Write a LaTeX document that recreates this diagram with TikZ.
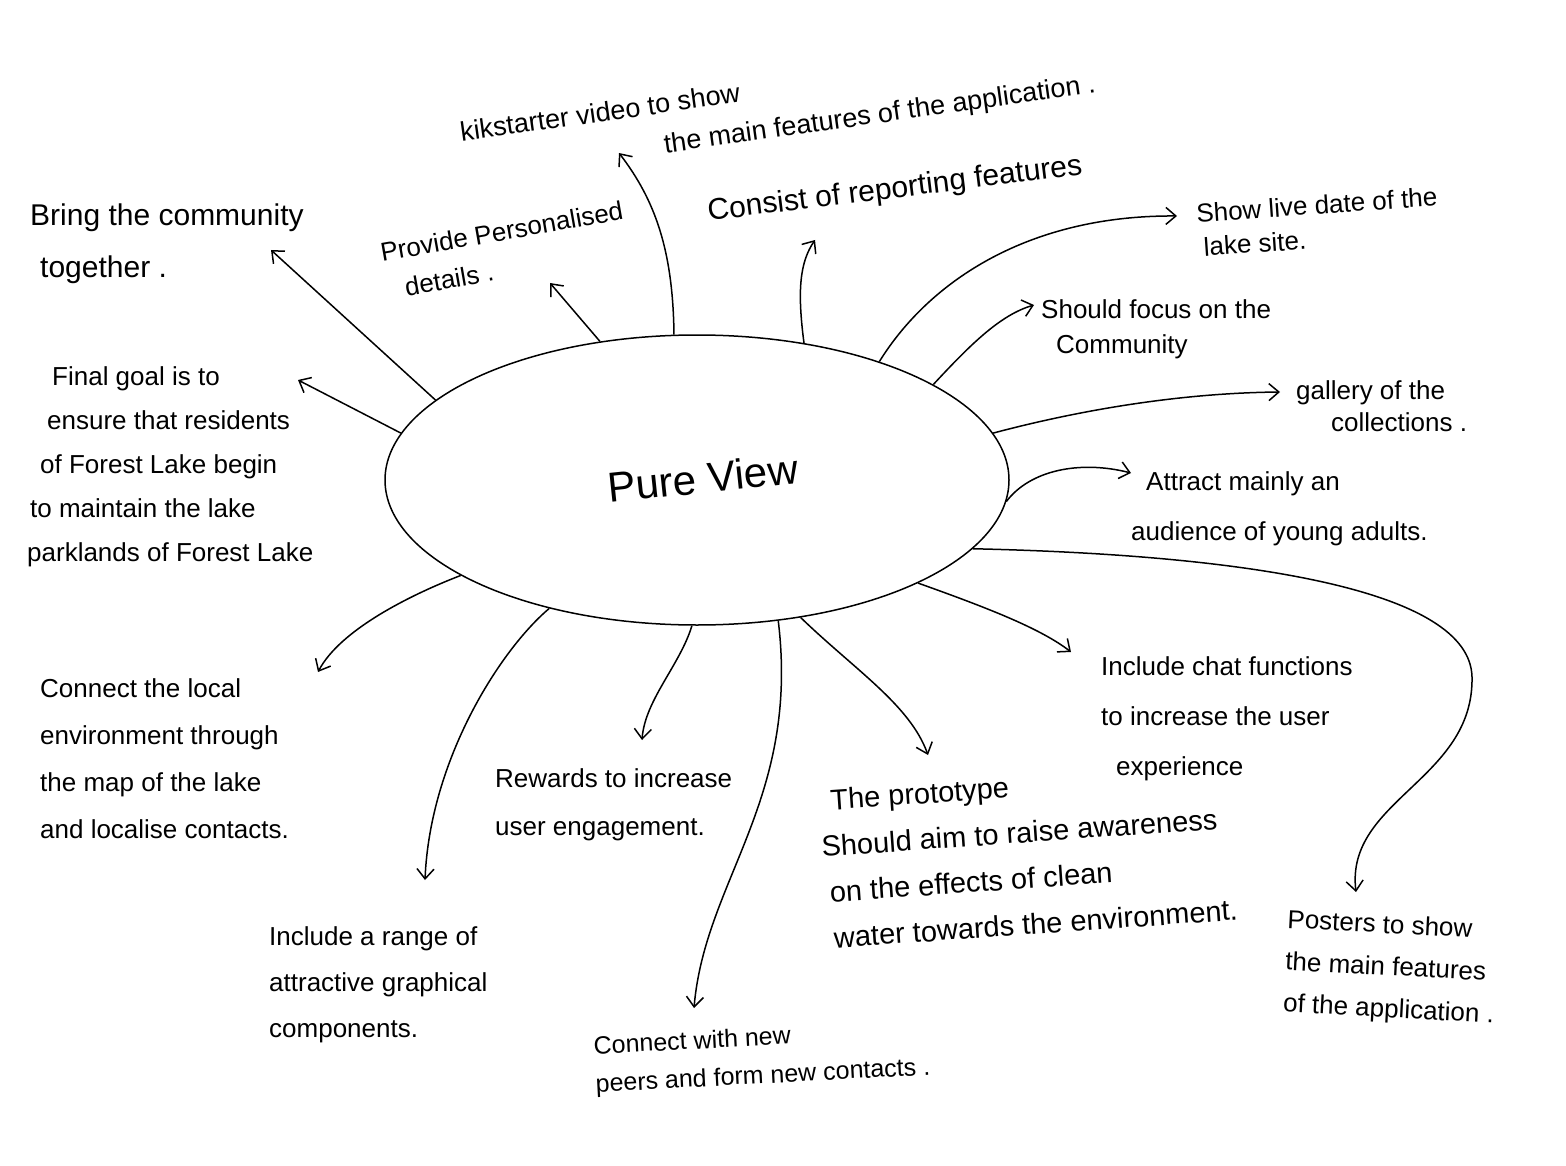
\documentclass[tikz,border=0pt]{standalone}
\usepackage{fontspec}
\setmainfont{Liberation Sans}
\usetikzlibrary{arrows.meta,shapes.geometric}

\begin{document}
\begin{tikzpicture}[x=1pt,y=-1pt,
  note/.style={font=\fontsize{26}{#1}\selectfont,align=left,inner sep=0pt,anchor=north west},
  note/.default=46,
  link/.style={line width=1.5pt,-{Straight Barb[length=10pt,width=17pt]}}]
\useasboundingbox (0,0) rectangle (1566,1166);
\fill[white] (0,0) rectangle (1566,1166);
\node[draw,line width=1.5pt,ellipse,minimum width=624,minimum height=290,inner sep=0pt] (pv) at (697,480) {};
\node[font=\fontsize{42}{42}\selectfont,rotate=6] (title) at (703,478) {Pure View};
\node[note,font=\fontsize{30}{52}\selectfont] (bring) at (30,204) {Bring the community\\\hspace*{10pt}together .};
\node[note=44] (final) at (27,366) {\hspace*{25pt}Final goal is to\\\hspace*{20pt}ensure that residents\\\hspace*{13pt}of Forest Lake begin\\\hspace*{3pt}to maintain the lake\\parklands of Forest Lake};
\node[note=38,rotate=10,anchor=center] (provide) at (505,250) {Provide Personalised\\\hspace*{18pt}details .};
\node[note,font=\fontsize{27}{40}\selectfont,rotate=8,anchor=center] (kick) at (778,110) {kikstarter video to show\\\hspace*{200pt}the main features of the application .};
\node[note,font=\fontsize{30}{30}\selectfont,rotate=7,anchor=center] (consist) at (895,190) {Consist of reporting features};
\node[note=34,rotate=4,anchor=center] (show) at (1318,222) {Show live date of the\\\hspace*{5pt}lake site.};
\node[note=35] (focus) at (1041,299) {Should focus on the\\\hspace*{15pt}Community};
\node[note=32] (gallery) at (1296,380) {gallery of the\\\hspace*{35pt}collections .};
\node[note=50] (attract) at (1131,471) {\hspace*{15pt}Attract mainly an\\audience of young adults.};
\node[note=50] (chat) at (1101,656) {Include chat functions\\to increase the user\\\hspace*{15pt}experience};
\node[note=42,rotate=-3] (posters) at (1288,909) {Posters to show\\the main features\\of the application .};
\node[note,font=\fontsize{29}{46}\selectfont,rotate=4,anchor=center] (proto) at (1028,855) {\hspace*{12pt}The prototype\\Should aim to raise awareness\\\hspace*{5pt}on the effects of clean\\\hspace*{6pt}water towards the environment.};
\node[note,font=\fontsize{25}{38}\selectfont,rotate=3,anchor=center] (peers) at (762,1058) {Connect with new\\peers and form new contacts .};
\node[note=48] (rewards) at (495,768) {Rewards to increase\\user engagement.};
\node[note=46] (range) at (269,926) {Include a range of\\attractive graphical\\components.};
\node[note=47] (local) at (40,678) {Connect the local\\environment through\\the map of the lake\\and localise contacts.};
\foreach \n/\x/\y in {kickend/619/153,bringend/271/250,finalend/298/380,provideend/550/283,
  consistend/815/240,showend/1177/216,focusend/1034/305,galleryend/1280/392,attractend/1131/473,
  postersend/1356/892,chatend/1071/652,protoend/928/755,peersend/694/1008,rewardsend/642/740,
  rangeend/425/880,localend/318/672}
  \coordinate (\n) at (\x,\y);
\draw[link] (pv.99) .. controls (673,250) and (655,200) .. (kickend);
\draw[link] (pv.163) -- (bringend);
\draw[link] (pv.171) -- (finalend);
\draw[link] (pv.125) -- (provideend);
\draw[link] (pv.52) .. controls (797,290) and (800,262) .. (consistend);
\draw[link] (pv.33) .. controls (930,280) and (1030,215) .. (showend);
\draw[link] (pv.22) .. controls (970,345) and (1000,315) .. (focusend);
\draw[link] (pv.9) .. controls (1080,410) and (1180,393) .. (galleryend);
\draw[link] (pv.-4) .. controls (1030,470) and (1080,460) .. (attractend);
\draw[link] (pv.-14) .. controls (1250,555) and (1470,590) .. (1472,677) .. controls (1474,780) and (1345,800) .. (postersend);
\draw[link] (pv.-25) .. controls (985,607) and (1040,628) .. (chatend);
\draw[link] (pv.-53) .. controls (855,670) and (910,705) .. (protoend);
\draw[link] (pv.-60) .. controls (800,800) and (705,880) .. (peersend);
\draw[link] (pv.-92) .. controls (680,665) and (645,700) .. (rewardsend);
\draw[link] (pv.-139) .. controls (500,650) and (430,760) .. (rangeend);
\draw[link] (pv.-158) .. controls (410,595) and (340,630) .. (localend);
\end{tikzpicture}
\end{document}
